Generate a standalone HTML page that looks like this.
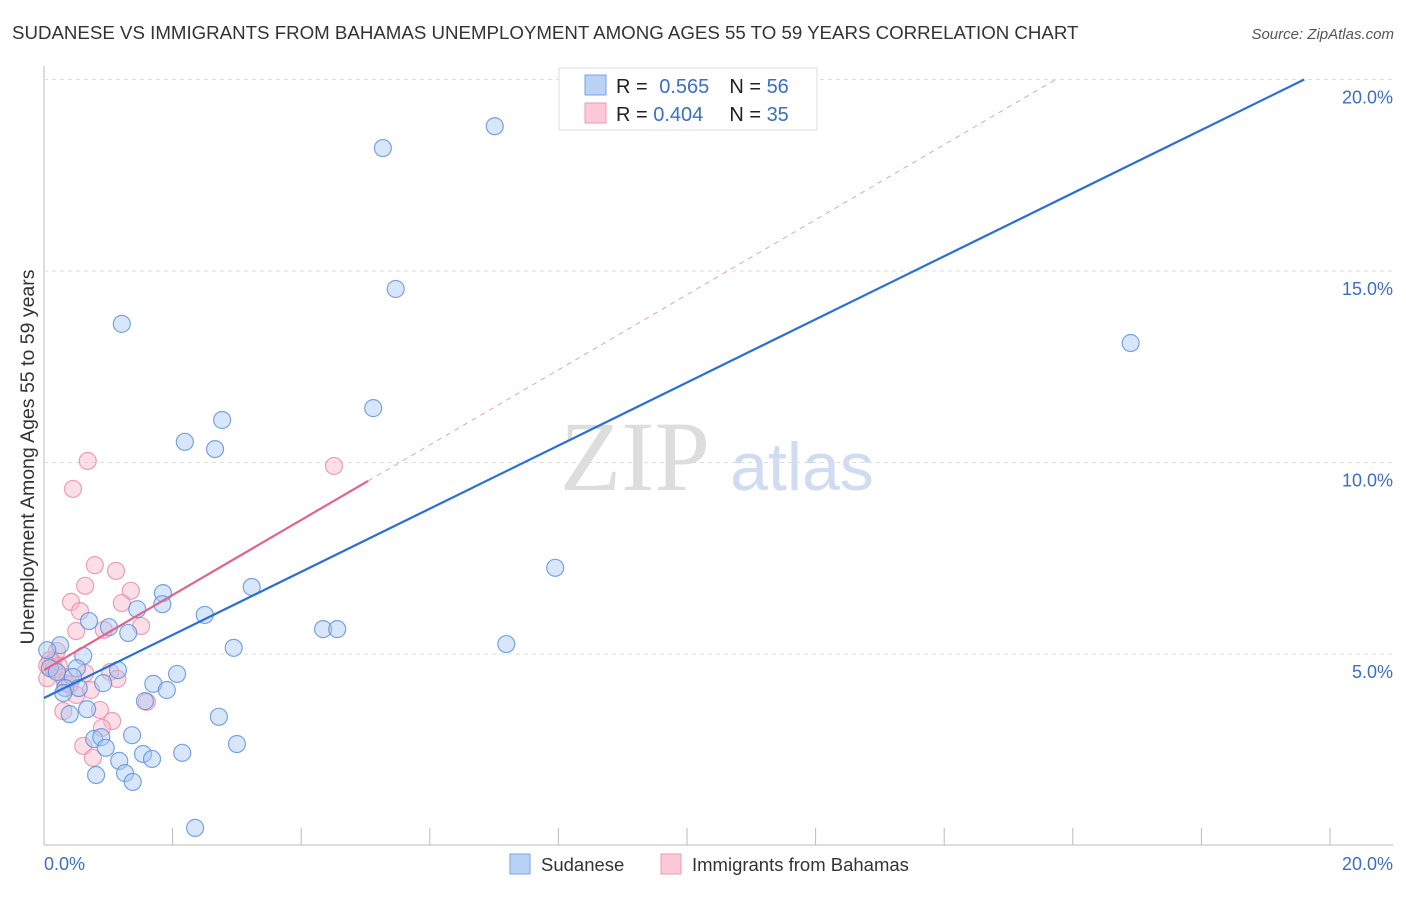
<!DOCTYPE html>
<html><head><meta charset="utf-8"><style>
body{margin:0;background:#fff;font-family:"Liberation Sans",sans-serif}
</style></head><body>
<svg id="c" width="1406" height="892" xmlns="http://www.w3.org/2000/svg" font-family="Liberation Sans, sans-serif">
<text x="12" y="39" font-size="18.7" fill="#333">SUDANESE VS IMMIGRANTS FROM BAHAMAS UNEMPLOYMENT AMONG AGES 55 TO 59 YEARS CORRELATION CHART</text>
<text x="1394" y="39" font-size="15" fill="#555" font-style="italic" text-anchor="end">Source: ZipAtlas.com</text>
<text x="635" y="490" font-size="100" fill="#ddd" style="font-family:'Liberation Serif',serif" text-anchor="middle">ZIP</text>
<text x="802" y="490" font-size="68" fill="#cfdcf2" text-anchor="middle">atlas</text>
<g id="grid"></g><g id="pts"></g><g id="lines"></g>
<text transform="translate(34,457) rotate(-90)" font-size="19.5" fill="#333" text-anchor="middle">Unemployment Among Ages 55 to 59 years</text>
<text x="44" y="870" font-size="18" fill="#3a6fc4">0.0%</text>
<text x="1393" y="870" font-size="18" fill="#3a6fc4" text-anchor="end">20.0%</text>
<g>
<rect x="510" y="854" width="20" height="20" fill="#b9d3f7" stroke="#7aa3e0"/>
<text x="541" y="871" font-size="18.5" fill="#333">Sudanese</text>
<rect x="661" y="854" width="20" height="20" fill="#fbc9d8" stroke="#eb9ab2"/>
<text x="692" y="871" font-size="18.5" fill="#333">Immigrants from Bahamas</text>
</g>
<g>
<rect x="559" y="68" width="258" height="62" fill="#fff" stroke="#ddd"/>
<rect x="585" y="75" width="21" height="20" fill="#b9d3f7" stroke="#7aa3e0"/>
<rect x="585" y="103" width="21" height="20" fill="#fbc9d8" stroke="#eb9ab2"/>
<text x="616" y="93" font-size="20" fill="#222">R = <tspan fill="#3a6fc4" dx="6">0.565</tspan><tspan dx="20">N = </tspan><tspan fill="#3a6fc4">56</tspan></text>
<text x="616" y="121" font-size="20" fill="#222">R = <tspan fill="#3a6fc4">0.404</tspan><tspan dx="26">N = </tspan><tspan fill="#3a6fc4">35</tspan></text>
</g>
</svg>
<script>
const yTicks=[5,10,15,20];
const yTickLabels=["5.0%","10.0%","15.0%","20.0%"];
const xTicks=[0,2,4,6,8,10,12,14,16,18,20];
const blueX=[7.01,5.27,5.47,1.21,16.9,5.12,2.77,2.19,2.66,7.95,3.23,1.85,1.45,1.84,2.5,0.7,1.01,1.31,4.34,4.56,7.19,2.95,0.25,0.61,0.51,1.15,2.07,0.09,0.2,0.45,0.92,1.7,1.91,0.33,0.54,0.3,1.57,0.67,0.4,2.72,1.37,0.78,0.89,0.96,3.0,1.54,2.15,1.17,1.68,0.81,1.26,1.38,2.35,0.05];
const blueY=[18.78,18.21,14.53,13.62,13.12,11.42,11.11,10.54,10.35,7.25,6.75,6.59,6.17,6.3,6.02,5.86,5.7,5.55,5.65,5.65,5.26,5.16,5.23,4.95,4.63,4.58,4.48,4.63,4.53,4.4,4.24,4.22,4.06,4.11,4.11,3.98,3.77,3.56,3.43,3.36,2.88,2.78,2.83,2.55,2.65,2.39,2.42,2.21,2.26,1.84,1.89,1.66,0.46,5.1];
const pinkX=[0.68,4.51,0.45,0.79,1.12,0.64,1.35,0.42,1.21,0.56,1.51,0.5,0.93,0.2,0.14,0.64,1.03,1.14,0.05,0.33,0.73,0.5,1.6,0.3,0.87,1.06,0.9,0.61,0.76,0.23,0.09,0.15,0.3,0.05,0.4];
const pinkY=[10.04,9.91,9.31,7.32,7.17,6.78,6.65,6.36,6.33,6.12,5.73,5.6,5.63,5.08,4.79,4.5,4.53,4.35,4.37,4.24,4.06,3.93,3.75,3.51,3.54,3.25,3.07,2.6,2.29,4.69,4.84,4.6,4.4,4.7,4.2];
const blueFit=[3.85,0.824];
const pinkFit=[4.58,0.98];
const X0=44,X1=1330,Y0=845.5,Y20=79.5;
const sx=v=>X0+(X1-X0)*v/20, sy=v=>Y0-(Y0-Y20)*v/20;
const NS="http://www.w3.org/2000/svg";
function mk(tag,attrs,parent){const e=document.createElementNS(NS,tag);for(const k in attrs)e.setAttribute(k,attrs[k]);parent.appendChild(e);return e;}
const grid=document.getElementById('grid'),pts=document.getElementById('pts'),lines=document.getElementById('lines');
const ax=mk('line',{x1:X0,y1:66,x2:X0,y2:845,stroke:'#bbb'},grid);


const bx=mk('line',{x1:X0,y1:845,x2:1393,y2:845,stroke:'#bbb'},grid);


yTicks.forEach((t,i)=>{
 const g=mk('line',{x1:X0,x2:1393,y1:sy(t),y2:sy(t),stroke:'#ddd','stroke-dasharray':'4,4'},grid);
 
 
 const l=mk('text',{x:1393,y:sy(t)+24,'font-size':18,fill:'#3a6fc4','text-anchor':'end'},grid);
 l.textContent=yTickLabels[i];
 
 
});
xTicks.forEach(t=>{
 const k=mk('line',{x1:sx(t),x2:sx(t),y1:828,y2:845,stroke:'#bbb'},grid);
 
 
});
function dots(xs,ys,fill,stroke,name){xs.forEach((x,i)=>{
 const c=mk('circle',{cx:sx(x),cy:sy(ys[i]),r:8.5,fill:fill,'fill-opacity':0.45,stroke:stroke,'stroke-opacity':0.8,'stroke-width':1.2},pts);
 
 
});}
dots(pinkX,pinkY,'#f8b5c9','#e889a6','bahamas-point');
dots(blueX,blueY,'#a9c8f3','#5a8fdc','sudanese-point');
const bxEnd=(20-blueFit[0])/blueFit[1];
const bl=mk('line',{x1:sx(0),y1:sy(blueFit[0]),x2:sx(bxEnd),y2:sy(20),stroke:'#2a6fd6','stroke-width':2.2},lines);


const pxEnd=(20-pinkFit[0])/pinkFit[1];
const pd=mk('line',{x1:sx(5.04),y1:sy(pinkFit[0]+pinkFit[1]*5.04),x2:sx(pxEnd),y2:sy(20),stroke:'#e8a0b8','stroke-width':1,'stroke-dasharray':'5,5'},lines);


const pl=mk('line',{x1:sx(0),y1:sy(pinkFit[0]),x2:sx(5.04),y2:sy(pinkFit[0]+pinkFit[1]*5.04),stroke:'#e0648e','stroke-width':2.2},lines);


</script>
</body></html>
